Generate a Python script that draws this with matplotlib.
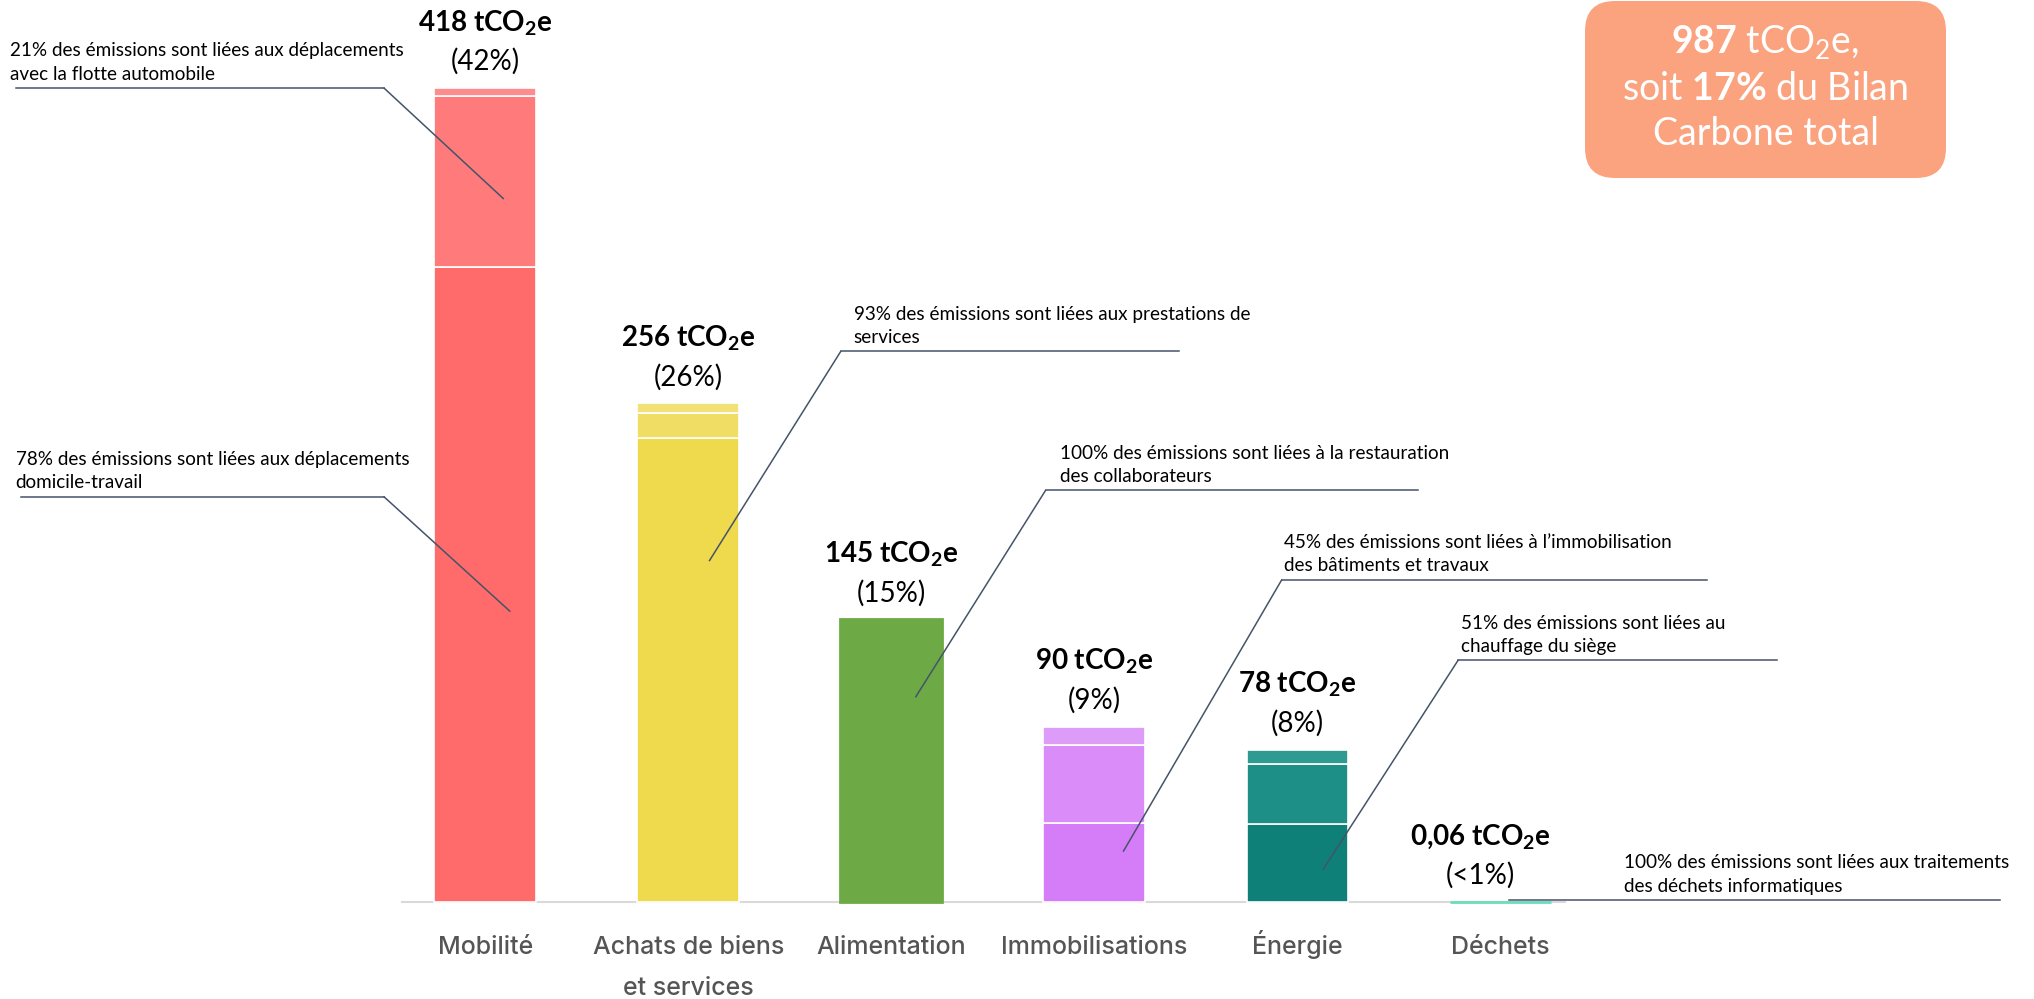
import matplotlib.pyplot as plt
from matplotlib.patches import FancyBboxPatch

plt.rcParams['font.family'] = ['Lato', 'DejaVu Sans']
plt.rcParams['mathtext.fontset'] = 'custom'
plt.rcParams['mathtext.rm'] = 'Lato'
plt.rcParams['mathtext.bf'] = 'Lato:bold'
plt.rcParams['mathtext.it'] = 'Lato:italic'
plt.rcParams['mathtext.default'] = 'regular'

# emissions per poste (tCO2e)
categories = ["Mobilité", "Achats de biens\net services", "Alimentation",
              "Immobilisations", "Énergie", "Déchets"]
totals = [418, 256, 145, 90, 78, 0.06]
value_text = ["418", "256", "145", "90", "78", "0,06"]
shares = ["42%", "26%", "15%", "9%", "8%", "<1%"]

# sub-items stacked inside each bar (bottom to top)
mobilite_parts = [326, 88, 4]
achats_parts = [238, 13, 5]
alimentation_parts = [145]
immo_parts = [40.5, 40, 9.5]
energie_parts = [39.8, 31.2, 7]
dechets_parts = [0.06]
parts = [mobilite_parts, achats_parts, alimentation_parts,
         immo_parts, energie_parts, dechets_parts]

colors = [["#FF6B6B", "#FF7B7B", "#FF8C8C"],
          ["#EFDA4E", "#F0DE64", "#F2E276"],
          ["#6DAA45"],
          ["#D57DF8", "#DA8CF9", "#DE9CF9"],
          ["#0E8078", "#1D8F87", "#2F9A91"],
          ["#6BDDB8"]]

label_dx = [0, 0, 0, 0, 0, -0.1]

# callouts: text, text x, line y, line start, line end, knee x, pointed-at point
notes = [
    "21% des émissions sont liées aux déplacements\navec la flotte automobile",
    "78% des émissions sont liées aux déplacements\ndomicile-travail",
    "93% des émissions sont liées aux prestations de\nservices",
    "100% des émissions sont liées à la restauration\ndes collaborateurs",
    "45% des émissions sont liées à l’immobilisation\ndes bâtiments et travaux",
    "51% des émissions sont liées au\nchauffage du siège",
    "100% des émissions sont liées aux traitements\ndes déchets informatiques",
]
note_x = [-2.339, -2.313, 1.815, 2.831, 3.936, 4.805, 5.610]
note_line_y = [418.0, 208.0, 282.7, 211.3, 165.3, 124.0, 0.7]
note_line_x0 = [-2.313, -2.288, 1.751, 2.760, 3.923, 4.792, 5.042]
note_line_x1 = [-0.498, -0.498, 3.419, 4.594, 6.019, 6.364, 7.463]
knee_x = [-0.498, -0.498, 1.751, 2.760, 3.923, 4.792, None]
point_x = [0.089, 0.121, 1.105, 2.121, 3.144, 4.128, None]
point_y = [361.3, 149.3, 175.3, 105.3, 26.0, 16.7, None]

line_c = "#44546A"

fig = plt.figure(figsize=(20.34, 9.99), dpi=100)
ax = fig.add_axes([0, 0, 1, 1])
ax.set_xlim(-2.39, 7.629)
ax.set_ylim(-50, 463.3)
ax.axis('off')

ax.plot([-0.41, 5.32], [0, 0], color="#D9D9D9", lw=1.5, zorder=0)

for i, (pp, cc) in enumerate(zip(parts, colors)):
    bottom = 0
    for v, c in zip(pp, cc):
        if len(pp) > 1:
            ax.bar(i, v, width=0.5, bottom=bottom, color=c,
                   edgecolor="white", linewidth=1.2)
        else:
            ax.bar(i, v, width=0.5, bottom=bottom, color=c,
                   edgecolor=c, linewidth=2)
        bottom += v

for i in range(len(categories)):
    x = i + label_dx[i]
    ax.annotate(f"{value_text[i]} tCO$_2$e", xy=(x, totals[i]),
                xytext=(0, 47), textcoords="offset points",
                ha="center", va="center", fontsize=20, fontweight="bold")
    ax.annotate(f"({shares[i]})", xy=(x, totals[i]),
                xytext=(0, 19), textcoords="offset points",
                ha="center", va="center", fontsize=20)
    # category name, one line at a time so accents don't shift it
    for j, line in enumerate(categories[i].split("\n")):
        ax.text(i, -27 - 21 * j, line, ha="center", va="baseline",
                fontsize=18, fontweight="medium", color="#555555",
                family=["Inter", "DejaVu Sans"])

for k in range(len(notes)):
    ax.plot([note_line_x0[k], note_line_x1[k]], [note_line_y[k]] * 2,
            color=line_c, lw=1.1)
    if knee_x[k] is not None:
        ax.plot([knee_x[k], point_x[k]], [note_line_y[k], point_y[k]],
                color=line_c, lw=1.1)
    ax.annotate(notes[k], xy=(note_x[k], note_line_y[k]), xytext=(0, 4),
                textcoords="offset points", ha="left", va="bottom",
                fontsize=13.6, linespacing=1.45)

# total box, top right
pad = 0.3
box = FancyBboxPatch((15.85 + pad, 8.21 + pad), 3.61 - 2 * pad, 1.77 - 2 * pad,
                     boxstyle=f"round,pad={pad}", transform=fig.dpi_scale_trans,
                     facecolor="#FBA27F", edgecolor="none")
fig.add_artist(box)
box_lines = [r"$\mathbf{987}$ tCO$_2$e,", r"soit $\mathbf{17\%}$ du Bilan",
             "Carbone total"]
for y, s in zip([0.958, 0.911, 0.866], box_lines):
    fig.text(0.868, y, s, ha="center", va="center", fontsize=27, color="white")

fig.savefig("out.png", dpi=100)
